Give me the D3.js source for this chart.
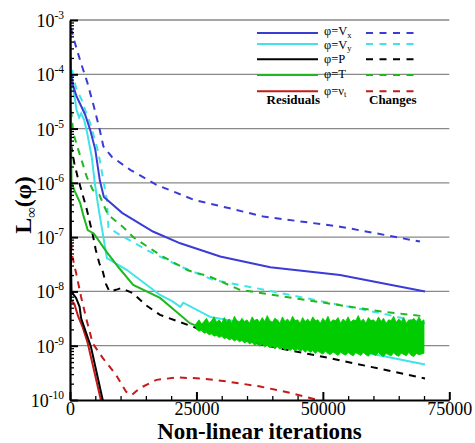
<!DOCTYPE html>
<html>
<head>
<meta charset="utf-8">
<script src="https://cdn.jsdelivr.net/npm/d3@7"></script>
<style>
  html, body { margin: 0; padding: 0; background: #fff; }
  svg { display: block; }
  text { font-family: "Liberation Serif", "Times New Roman", serif; }
</style>
</head>
<body>
<svg id="chart" width="475" height="443"></svg>
<script>
// ---------------- data (iteration, value) ----------------
const vxResidual = [[0,7.8e-4],[200,1.0e-4],[600,6.3e-5],[1300,3.9e-5],[2200,2.6e-5],[3000,1.8e-5],[4000,9.4e-6],[5000,4.1e-6],[5900,1.1e-6],[6700,5.5e-7],[10300,2.8e-7],[16400,1.27e-7],[21800,7.7e-8],[29700,4.4e-8],[39600,2.8e-8],[53400,2.0e-8],[70200,1.0e-8]];
const vxChange = [[200,7.1e-4],[800,4.3e-4],[2000,1.8e-4],[3400,7.2e-5],[4700,2.6e-5],[5900,9.3e-6],[6600,4.7e-6],[8300,3.0e-6],[11900,1.74e-6],[17100,9.2e-7],[24700,4.8e-7],[31600,3.4e-7],[38200,2.4e-7],[53400,1.56e-7],[69200,8.3e-8]];
const vyResidual = [[100,1.2e-4],[400,7.9e-5],[850,4.2e-5],[1300,2.2e-5],[1800,1.6e-5],[2200,1.9e-5],[2800,1.45e-5],[3400,8.3e-6],[4300,3.0e-6],[4900,1.0e-6],[5600,3.6e-7],[7300,4.1e-8],[11200,2.5e-8],[17800,8.6e-9],[20200,6.6e-9],[21800,5.2e-9],[22400,6.2e-9],[27700,3.4e-9],[34900,2.6e-9],[45500,1.38e-9],[57400,7.8e-10],[70200,4.5e-10]];
const vyChange = [[400,1.2e-4],[1200,5.6e-5],[2300,3.4e-5],[3000,2.2e-5],[4000,1.25e-5],[5300,4.7e-6],[5900,2.6e-6],[6600,1.1e-6],[7300,4.8e-7],[7600,1.48e-7],[9900,1.1e-7],[15800,5.4e-8],[21800,2.9e-8],[28300,1.63e-8],[37000,1.14e-8],[61300,4.0e-9],[70200,2.6e-9]];
const pResidual = [[0,3.4e-5],[150,5.7e-8],[300,9.8e-9],[1200,7.6e-9],[1900,5.2e-9],[2200,3.2e-9],[2800,2.2e-9],[4150,9.5e-10],[6470,1.0e-10],[6600,8.1e-11]];
const pChange = [[200,5.0e-6],[850,2.3e-6],[1500,1.3e-6],[2500,6.0e-7],[3200,3.6e-7],[3800,2.1e-7],[4500,1.1e-7],[5100,5.8e-8],[5800,3.3e-8],[6500,2.3e-8],[7100,1.38e-8],[7800,1.0e-8],[9100,1.07e-8],[10100,1.15e-8],[12400,9.3e-9],[15000,5.6e-9],[17800,3.7e-9],[25100,2.1e-9],[31000,1.58e-9],[38200,1.03e-9],[51400,5.9e-10],[70200,2.5e-10]];
const tResidual = [[0,5.4e-4],[100,5.1e-5],[200,6.1e-6],[300,1.0e-6],[1000,6.8e-7],[2000,4.3e-7],[2600,2.6e-7],[3500,1.35e-7],[4700,1.17e-7],[7200,5.4e-8],[9700,2.7e-8],[12500,1.32e-8],[17800,7.6e-9],[23700,2.6e-9],[24700,2.4e-9]];
const tChange = [[200,2.2e-5],[650,8.3e-6],[1400,4.8e-6],[2300,2.6e-6],[3300,1.3e-6],[4500,7.4e-7],[5800,6.0e-7],[7500,2.6e-7],[10400,1.56e-7],[12500,1.0e-7],[17800,4.7e-8],[23300,2.45e-8],[27700,1.86e-8],[33600,1.07e-8],[61300,4.3e-9],[69800,3.5e-9]];
const nutResidual = [[0,1.45e-5],[100,2.5e-8],[200,6.9e-9],[850,5.9e-9],[1600,3.5e-9],[2500,2.2e-9],[3500,1.12e-9],[6100,1.0e-10],[6270,8.1e-11]];
const nutChange = [[60,1.35e-7],[400,4.7e-8],[1200,2.2e-8],[2200,7.9e-9],[3200,3.2e-9],[4500,1.1e-9],[6500,5.9e-10],[9100,2.9e-10],[11100,1.42e-10],[12200,1.23e-10],[13800,1.65e-10],[17100,2.35e-10],[21100,2.6e-10],[25700,2.5e-10],[31000,2.2e-10],[37600,1.77e-10],[43500,1.36e-10],[49000,1.0e-10]];

// oscillating T residual band: iterations, upper and lower envelopes (x 1e-9)
const tBandIter = [24700,
  25000,25500,26000,26500,27000,27500,28000,28500,29000,29500,
  30000,30500,31000,31500,32000,32500,33000,33500,34000,34500,
  35000,35500,36000,36500,37000,37500,38000,38500,39000,39500,
  40000,40500,41000,41500,42000,42500,43000,43500,44000,44500,
  45000,45500,46000,46500,47000,47500,48000,48500,49000,49500,
  50000,50500,51000,51500,52000,52500,53000,53500,54000,54500,
  55000,55500,56000,56500,57000,57500,58000,58500,59000,59500,
  60000,60500,61000,61500,62000,62500,63000,63500,64000,64500,
  65000,65500,66000,66500,67000,67500,68000,68500,69000,69500,
  70000];
const tBandTop = [2.4,
  2.6,3.0,2.5,2.8,3.2,2.6,2.9,3.4,2.7,3.0,
  2.6,3.3,2.8,3.1,2.6,3.5,2.9,2.7,3.2,2.8,
  3.0,2.6,3.4,2.9,3.1,2.7,3.3,2.8,3.6,2.9,
  2.7,3.2,3.0,2.6,3.4,2.8,3.1,2.7,3.5,2.9,
  3.0,2.6,3.3,2.8,3.1,2.7,3.4,2.9,3.0,2.6,
  3.2,2.8,3.5,2.7,3.0,2.9,3.3,2.6,3.1,2.8,
  3.4,2.7,3.0,2.9,3.6,2.8,3.1,2.6,3.3,2.9,
  3.0,2.7,3.4,2.8,3.2,2.6,3.0,2.9,3.5,2.7,
  3.1,2.8,3.3,2.6,3.0,2.9,3.2,2.7,3.4,2.8,
  3.0];
const tBandBottom = [2.4,
  2.0,1.85,1.9,1.7,1.75,1.6,1.65,1.5,1.55,1.42,
  1.5,1.35,1.4,1.28,1.35,1.22,1.3,1.18,1.25,1.12,
  1.2,1.08,1.15,1.02,1.1,0.98,1.05,0.95,1.02,0.92,
  0.98,0.88,0.96,0.86,0.93,0.84,0.9,0.82,0.88,0.8,
  0.87,0.78,0.85,0.76,0.83,0.75,0.82,0.72,0.8,0.74,
  0.7,0.79,0.72,0.68,0.77,0.71,0.66,0.76,0.7,0.67,
  0.75,0.69,0.65,0.74,0.7,0.66,0.76,0.68,0.64,0.73,
  0.69,0.66,0.75,0.67,0.63,0.72,0.68,0.65,0.74,0.67,
  0.64,0.73,0.69,0.65,0.75,0.66,0.63,0.72,0.68,0.7,
  0.73];
const bandScale = 1e-9;

const xTicks = [0, 25000, 50000, 75000];
const xTickLabels = ["0", "25000", "50000", "75000"];
const yTicks = [1e-3, 1e-4, 1e-5, 1e-6, 1e-7, 1e-8, 1e-9, 1e-10];
const yTickExponents = ["-3", "-4", "-5", "-6", "-7", "-8", "-9", "-10"];

const legendLabels = [["φ=V","x"],["φ=V","y"],["φ=P",""],["φ=T",""],["φ=ν","t"]];

// ---------------- drawing ----------------
const C = { vx: "#3b3bd6", vy: "#3fe3e8", p: "#000000", t: "#1fb81f", band: "#00cc00", nut: "#c41a1a" };
const svg = d3.select("#chart");
const L = 70, R = 449.3, T = 20, B = 400;
const x = d3.scaleLinear().domain([0, 75000]).range([L, R]);
const y = d3.scaleLog().domain([1e-10, 1e-3]).range([B, T]);

svg.append("defs").append("clipPath").attr("id", "clip")
  .append("rect").attr("x", L).attr("y", T).attr("width", R - L).attr("height", B - T);

// grid lines
svg.append("g").selectAll("line").data(yTicks.slice(0, 7)).join("line")
  .attr("x1", L).attr("x2", R).attr("y1", d => y(d)).attr("y2", d => y(d))
  .attr("stroke", "#888").attr("stroke-width", 1.3);

const line = d3.line().x(d => x(d[0])).y(d => y(d[1]));
const plot = svg.append("g").attr("clip-path", "url(#clip)");
const dash = "7,6";
const series = [
  [nutChange, C.nut, true], [nutResidual, C.nut, false],
  [pChange, C.p, true], [pResidual, C.p, false],
  [vyChange, C.vy, true], [vyResidual, C.vy, false],
  [vxChange, C.vx, true], [vxResidual, C.vx, false],
  [tChange, C.t, true], [tResidual, C.t, false]
];
series.forEach(([data, color, dashed]) => {
  plot.append("path").datum(data).attr("d", line)
    .attr("fill", "none").attr("stroke", color).attr("stroke-width", 2)
    .attr("stroke-dasharray", dashed ? dash : null);
});
// oscillation band
const band = d3.area()
  .x((d, i) => x(tBandIter[i]))
  .y0((d, i) => y(tBandBottom[i] * bandScale))
  .y1((d, i) => y(tBandTop[i] * bandScale));
plot.append("path").datum(tBandIter).attr("d", band)
  .attr("fill", C.band).attr("stroke", C.band).attr("stroke-width", 0.8);

// axes
const xMinor = d3.range(5000, 75000, 5000).filter(v => v % 25000 !== 0);
const yMinor = [];
for (let e = -10; e < -3; e++) for (let m = 2; m <= 9; m++) yMinor.push(m * Math.pow(10, e));

svg.append("g").attr("transform", `translate(0,${B})`)
  .call(d3.axisBottom(x).tickValues(xMinor).tickSize(-4).tickSizeOuter(0).tickFormat(""))
  .call(g => g.select(".domain").remove())
  .call(g => g.selectAll("line").attr("stroke-width", 1.3));
const xa = svg.append("g").attr("transform", `translate(0,${B})`)
  .call(d3.axisBottom(x).tickValues(xTicks).tickSize(-8).tickSizeOuter(0).tickPadding(2)
    .tickFormat((d, i) => xTickLabels[i]));
xa.select(".domain").attr("stroke-width", 2.2);
xa.selectAll("line").attr("stroke-width", 2);
xa.selectAll("text").attr("font-size", 18).attr("font-family", "Liberation Serif").attr("fill", "#000");

svg.append("g").attr("transform", `translate(${L},0)`)
  .call(d3.axisLeft(y).tickValues(yMinor).tickSize(-4).tickSizeOuter(0).tickFormat(""))
  .call(g => g.select(".domain").remove())
  .call(g => g.selectAll("line").attr("stroke-width", 1.3));
const ya = svg.append("g").attr("transform", `translate(${L},0)`)
  .call(d3.axisLeft(y).tickValues(yTicks).tickSize(-8).tickSizeOuter(0).tickFormat(""));
ya.select(".domain").attr("stroke-width", 2.2);
ya.selectAll("line").attr("stroke-width", 2);

// y tick labels with superscripts
yTicks.forEach((v, i) => {
  const t = svg.append("text").attr("x", 64).attr("y", y(v) + 7)
    .attr("text-anchor", "end").attr("font-size", 18).attr("fill", "#000");
  t.append("tspan").text("10");
  t.append("tspan").attr("font-size", 11.5).attr("dy", -8).text(yTickExponents[i]);
});

// axis titles
svg.append("text").attr("x", 259.5).attr("y", 438.5).attr("text-anchor", "middle")
  .attr("font-size", 23).attr("font-weight", "bold").text("Non-linear iterations");
const yl = svg.append("text").attr("transform", "translate(31,205) rotate(-90)")
  .attr("text-anchor", "middle").attr("font-size", 24).attr("font-weight", "bold");
yl.append("tspan").text("L");
yl.append("tspan").attr("font-size", 15).attr("dy", 5).text("∞");
yl.append("tspan").attr("dy", -5).text("(φ)");

// legend
const legColors = [C.vx, C.vy, C.p, C.t, C.nut];
const legY = [33, 44, 59.3, 75, 91.3];
const legTextY = [35, 48.5, 62.5, 78.3, 94.5];
const leg = svg.append("g");
legendLabels.forEach((lab, i) => {
  leg.append("line").attr("x1", 257).attr("x2", 318).attr("y1", legY[i]).attr("y2", legY[i])
    .attr("stroke", legColors[i]).attr("stroke-width", 2);
  leg.append("line").attr("x1", 366).attr("x2", 420).attr("y1", legY[i]).attr("y2", legY[i])
    .attr("stroke", legColors[i]).attr("stroke-width", 2).attr("stroke-dasharray", "7,6.5");
  const t = leg.append("text").attr("x", 324).attr("y", legTextY[i]).attr("font-size", 12.5);
  t.append("tspan").text(lab[0]);
  if (lab[1]) t.append("tspan").attr("font-size", 8.5).attr("dy", 2.5).text(lab[1]);
});
leg.append("text").attr("x", 266.5).attr("y", 104).attr("font-size", 13).attr("font-weight", "bold").text("Residuals");
leg.append("text").attr("x", 369).attr("y", 104).attr("font-size", 13).attr("font-weight", "bold").text("Changes");
</script>
</body>
</html>
